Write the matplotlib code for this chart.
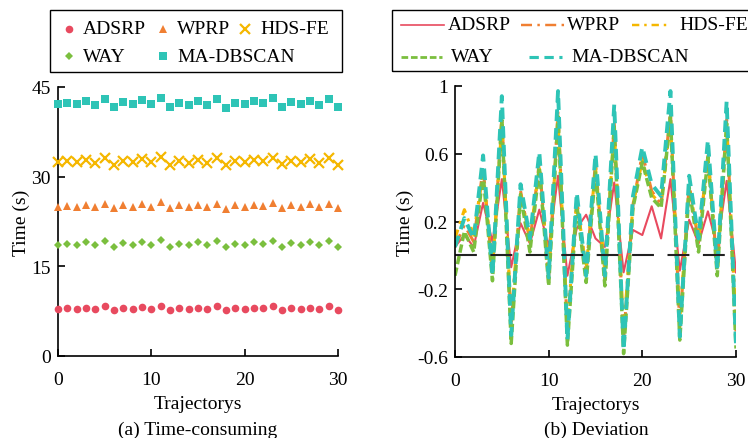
import matplotlib
matplotlib.use("Agg")
import matplotlib.pyplot as plt
from matplotlib.lines import Line2D
from matplotlib.patches import Rectangle

plt.rcParams['font.family'] = ['Liberation Serif', 'DejaVu Serif']
plt.rcParams['font.size'] = 14

names = ["ADSRP", "WPRP", "HDS-FE", "WAY", "MA-DBSCAN"]
colors = ["#E84A5F", "#F07F32", "#F5B700", "#7BBF3E", "#2EC4B6"]
x = list(range(31))

# (a) time-consuming
t_adsrp = [7.9, 8.0, 7.9, 8.1, 7.9, 8.3, 7.7, 8.1, 7.9, 8.2, 7.9, 8.3, 7.7, 8.0, 7.9, 8.1,
           7.9, 8.3, 7.7, 8.0, 7.9, 8.1, 8.0, 8.3, 7.7, 8.1, 7.9, 8.1, 7.9, 8.3, 7.7]
t_wprp = [25.0, 25.1, 25.0, 25.3, 24.9, 25.5, 24.8, 25.2, 25.0, 25.4, 25.0, 25.7, 24.7, 25.2, 24.9, 25.3,
          24.9, 25.5, 24.6, 25.2, 25.0, 25.3, 25.1, 25.6, 24.8, 25.2, 25.0, 25.4, 24.9, 25.5, 24.7]
t_hdsfe = [32.4, 32.6, 32.5, 32.8, 32.3, 33.1, 32.0, 32.7, 32.4, 32.9, 32.4, 33.3, 32.0, 32.7, 32.3, 32.8,
           32.3, 33.1, 31.9, 32.6, 32.4, 32.8, 32.6, 33.2, 32.1, 32.7, 32.4, 32.9, 32.3, 33.1, 32.0]
t_way = [18.6, 18.7, 18.6, 19.0, 18.5, 19.2, 18.3, 18.9, 18.6, 19.1, 18.6, 19.4, 18.2, 18.8, 18.5, 19.0,
         18.5, 19.2, 18.2, 18.8, 18.6, 19.0, 18.7, 19.3, 18.3, 18.9, 18.6, 19.0, 18.5, 19.2, 18.3]
t_madb = [42.1, 42.3, 42.1, 42.6, 42.0, 43.0, 41.7, 42.5, 42.1, 42.8, 42.1, 43.2, 41.6, 42.4, 42.0, 42.6,
          42.0, 43.0, 41.5, 42.4, 42.1, 42.6, 42.3, 43.1, 41.7, 42.5, 42.1, 42.7, 42.0, 43.0, 41.6]

# (b) deviation
d_adsrp = [0.05, 0.12, 0.05, 0.31, 0.08, 0.45, -0.07, 0.19, 0.07, 0.27, 0.05, 0.47, -0.12, 0.16, 0.24, 0.10,
           0.05, 0.43, -0.10, 0.15, 0.12, 0.29, 0.10, 0.45, -0.09, 0.21, 0.07, 0.26, 0.05, 0.44, -0.10]
d_wprp = [0.05, 0.18, 0.08, 0.52, -0.10, 0.82, -0.42, 0.38, 0.08, 0.55, -0.14, 0.85, -0.45, 0.33, -0.10, 0.55,
          -0.15, 0.78, -0.50, 0.30, 0.60, 0.38, 0.30, 0.85, -0.42, 0.42, 0.08, 0.60, -0.08, 0.80, -0.45]
d_hdsfe = [0.10, 0.27, 0.12, 0.50, -0.08, 0.78, -0.38, 0.36, 0.10, 0.52, -0.10, 0.80, -0.42, 0.32, -0.08, 0.52,
           -0.10, 0.75, -0.45, 0.30, 0.56, 0.36, 0.30, 0.80, -0.38, 0.40, 0.10, 0.58, -0.06, 0.76, -0.40]
d_way = [-0.12, 0.14, 0.02, 0.48, -0.15, 0.80, -0.52, 0.36, 0.02, 0.52, -0.18, 0.82, -0.53, 0.30, -0.16, 0.50,
         -0.18, 0.76, -0.58, 0.28, 0.55, 0.34, 0.28, 0.82, -0.50, 0.40, 0.02, 0.58, -0.12, 0.78, -0.55]
d_madb = [0.05, 0.22, 0.10, 0.59, -0.12, 0.94, -0.47, 0.42, 0.10, 0.61, -0.13, 0.97, -0.50, 0.37, -0.12, 0.60,
          -0.12, 0.89, -0.56, 0.35, 0.64, 0.42, 0.35, 0.97, -0.48, 0.47, 0.10, 0.68, -0.08, 0.91, -0.53]
baseline = [0.0] * 31

W, H = 748, 439
fig = plt.figure(figsize=(W / 100, H / 100), dpi=100)
ax1 = fig.add_axes([58 / W, 82 / H, 280 / W, 269 / H])
ax2 = fig.add_axes([455 / W, 81 / H, 281 / W, 271 / H])

def fx(px):
    return px / W

def fy(py):
    return 1 - py / H

markers = ["o", "^", "x", "D", "s"]
msizes = [5.5, 6.0, 7.0, 4.5, 6.0]
tdata = [t_adsrp, t_wprp, t_hdsfe, t_way, t_madb]
for c, m, ms, yv in zip(colors, markers, msizes, tdata):
    ax1.plot(x, yv, color=c, linestyle="none", marker=m, markersize=ms,
             markeredgewidth=(1.6 if m == "x" else 0), clip_on=False, zorder=3)

ax1.set_xlim(0, 30)
ax1.set_ylim(0, 45)
ax1.set_xticks([0, 10, 20, 30])
ax1.set_yticks([0, 15, 30, 45])
ax1.set_ylabel("Time (s)", labelpad=1)
ax1.set_xlabel("Trajectorys", labelpad=4.5)

ddata = [d_adsrp, d_wprp, d_hdsfe, d_way, d_madb]
styles = ["-", (0, (4.5, 2.2, 1, 2.2)), (0, (3, 2, 1, 2)), (0, (2.4, 1)), (0, (3, 1.8))]
widths = [1.5, 2.2, 2.2, 2.5, 2.8]
for c, ls, lw, yv in zip(colors, styles, widths, ddata):
    ax2.plot(x, yv, color=c, linestyle=ls, linewidth=lw)
ax2.plot(x, baseline, color="#222222", linestyle=(0, (10.5, 6.5)), linewidth=1.5)

ax2.set_xlim(0, 30)
ax2.set_ylim(-0.6, 1)
ax2.set_xticks([0, 10, 20, 30])
ax2.set_yticks([-0.6, -0.2, 0.2, 0.6, 1])
ax2.set_yticklabels(["-0.6", "-0.2", "0.2", "0.6", "1"])
ax2.set_ylabel("Time (s)", labelpad=2)
ax2.set_xlabel("Trajectorys", labelpad=4.5)

for ax in (ax1, ax2):
    ax.spines["top"].set_visible(False)
    ax.spines["right"].set_visible(False)
    ax.spines["left"].set_linewidth(1.2)
    ax.spines["bottom"].set_linewidth(1.2)
    ax.tick_params(direction="in", length=5, width=1.2, labelsize=14)
    ax.tick_params(axis="x", pad=11)
    ax.tick_params(axis="y", pad=5)

# ---- legend (a): row-flow layout in a box ----
fig.add_artist(Rectangle((fx(50), fy(73)), fx(342) - fx(50), fy(11) - fy(73),
                         transform=fig.transFigure, fill=False, edgecolor="black", linewidth=1.0))
leg_a = [(0, 69, 83, 30), (1, 163, 177, 30), (2, 245, 260, 30), (3, 69, 83, 57), (4, 163, 177, 57)]
for i, mx, tx, ry in leg_a:
    fig.add_artist(Line2D([fx(mx)], [fy(ry)], transform=fig.transFigure, color=colors[i],
                          marker=markers[i], markersize=msizes[i], linestyle="none",
                          markeredgewidth=(1.6 if markers[i] == "x" else 0)))
    fig.text(fx(tx), fy(ry), names[i], ha="left", va="center", fontsize=14)

# ---- legend (b) ----
fig.add_artist(Rectangle((fx(392), fy(72)), fx(760) - fx(392), fy(11) - fy(72),
                         transform=fig.transFigure, fill=False, edgecolor="black", linewidth=1.0))
leg_b = [(0, 401, 444, 448, 26), (1, 521, 566, 567, 26), (2, 632, 671, 679, 26),
         (3, 401, 442, 451, 58), (4, 529, 562, 571, 58)]
for i, x0, x1, tx, ry in leg_b:
    fig.add_artist(Line2D([fx(x0), fx(x1)], [fy(ry), fy(ry)], transform=fig.transFigure,
                          color=colors[i], linestyle=styles[i], linewidth=widths[i] * 0.8))
    fig.text(fx(tx), fy(ry), names[i], ha="left", va="center", fontsize=14)

fig.text(fx(198), fy(430), "(a) Time-consuming", ha="center", va="center", fontsize=14)
fig.text(fx(596), fy(430), "(b) Deviation", ha="center", va="center", fontsize=14)

fig.savefig("out.png", dpi=100)
